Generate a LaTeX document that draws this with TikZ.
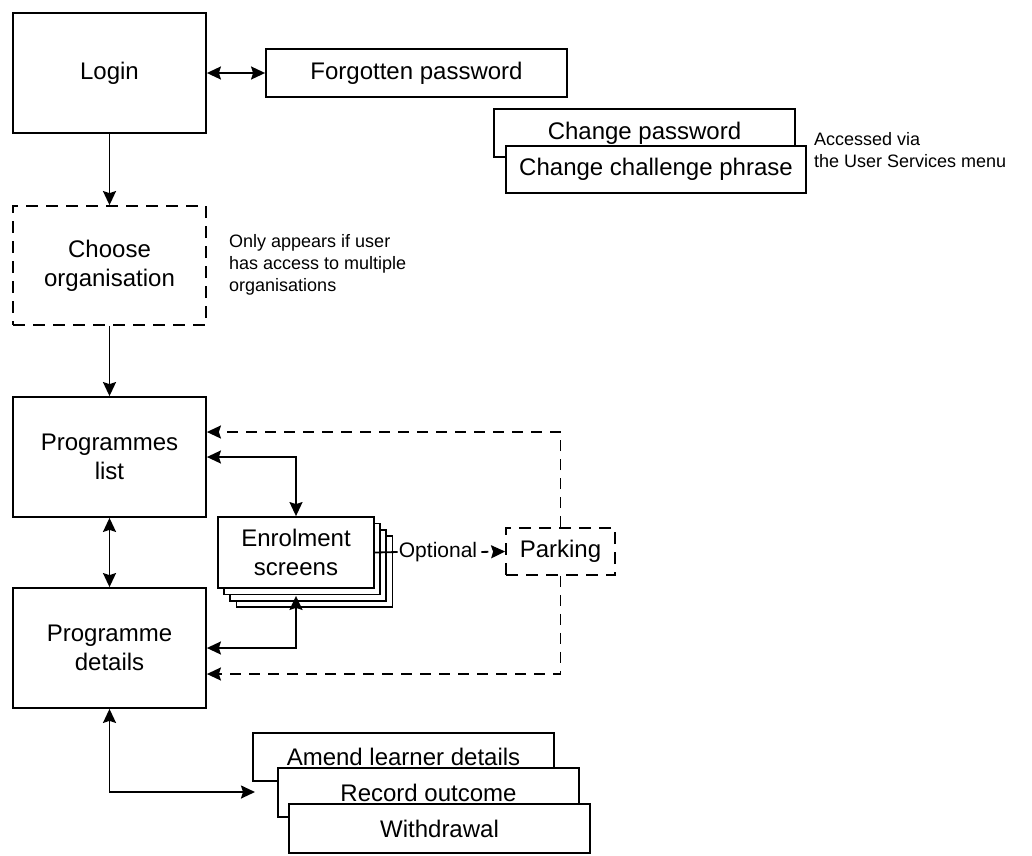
\documentclass[tikz,border=0pt]{standalone}
\usepackage{fontspec}
\setmainfont{Liberation Sans}
\usetikzlibrary{arrows.meta,calc}
\newcommand{\bigtxt}{\fontsize{24}{29}\selectfont}
\newcommand{\notetxt}{\fontsize{18}{22.5}\selectfont}
\newcommand{\opttxt}{\fontsize{21}{25}\selectfont}
\begin{document}
\begin{tikzpicture}[x=1pt,y=-1pt,
  box/.style={draw, line width=1.8pt, fill=white, inner sep=0pt, align=center, font=\bigtxt},
  dbox/.style={box, dash pattern=on 12pt off 8pt},
  bigbox/.style={box, minimum width=193pt, minimum height=120pt},
  widebox/.style={box, minimum width=301pt, minimum height=48pt},
  enrolbox/.style={box, minimum width=156pt, minimum height=71pt},
  note/.style={anchor=west, align=left, font=\notetxt, inner sep=0pt},
  link/.style={line width=1.8pt},
  dlink/.style={line width=1.8pt, dash pattern=on 11pt off 8pt},
  >={Stealth[length=14pt,width=13pt,inset=2pt]}
]
\useasboundingbox[fill=white] (0,0) rectangle (1032,855);

% top part
\node[bigbox] (login) at (109.5,73) {Login};
\node[widebox] (fp) at (416.5,73) {Forgotten password};
\node[widebox] (cp) at (644.5,133) {Change password};
\node[widebox, minimum width=300pt, minimum height=47pt] (ccp) at (656,169.5) {Change challenge phrase};
\node[note] (accnote) at (814,150) {Accessed via\\the User Services menu};

\node[dbox, minimum width=193pt, minimum height=119pt] (choose) at (109.5,265.5) {Choose\\organisation};
\node[note, font=\fontsize{18}{22}\selectfont] (orgnote) at (229,265) {Only appears if user\\has access to multiple\\organisations};

\node[bigbox] (plist) at (109.5,457) {Programmes\\list};
\node[bigbox] (pdet) at (109.5,648) {Programme\\details};

% enrolment stack
\node[enrolbox] (enrol3) at (314.5,571.5) {};
\node[enrolbox] (enrol2) at (308.3,565.3) {};
\node[enrolbox] (enrol1) at (302.2,559) {};
\node[enrolbox] (enrol) at (296,552.5) {Enrolment\\screens};

\node[dbox, minimum width=109pt, minimum height=47pt] (park) at (560.5,551.5) {Parking};
\node[font=\opttxt, inner sep=1pt] (opt) at (438,552) {Optional};

% bottom stack
\node[widebox] (amend) at (403.5,757) {Amend learner details};
\node[widebox, minimum height=49pt] (record) at (428.5,792.5) {Record outcome};
\node[widebox, minimum height=49pt] (withdraw) at (439.5,828.5) {Withdrawal};
\coordinate (stackin) at (255,792);

% connectors
\draw[link,<->] (login.east) -- (fp.west);
\draw[link,->] (login.south) -- (choose.north);
\draw[link,->] (choose.south) -- (plist.north);
\draw[link,<->] (plist.south) -- (pdet.north);
\draw[link,<->] (plist.east) -| (enrol.north);
\draw[link,<->] (pdet.east) -| ([yshift=-7pt]enrol.south);
\draw[dlink,->] (park.north) |- ([yshift=25pt]plist.east);
\draw[dlink,->] (park.south) |- ([yshift=-26pt]pdet.east);
\draw[link] (enrol.east) -- (opt.west);
\draw[line width=1.8pt, dash pattern=on 0pt off 3pt on 7pt off 30pt, ->] (opt.east) -- (park.west);
\draw[link,<->] (pdet.south) |- (stackin);
\end{tikzpicture}
\end{document}
